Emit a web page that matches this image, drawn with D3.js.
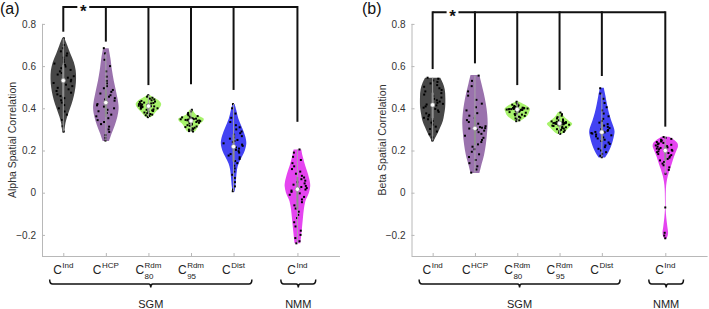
<!DOCTYPE html>
<html lang="en">
<head>
<meta charset="UTF-8">
<title>Alpha / Beta spatial correlation violins</title>
<script src="https://cdn.jsdelivr.net/npm/d3@7"></script>
<style>
  body { margin: 0; background: #fff; }
  svg { display: block; font-family: "Liberation Sans", Arial, Helvetica, sans-serif; }
  .ytick { fill: #333; font-size: 10px; }
  .ylab { fill: #333; font-size: 10.5px; }
</style>
</head>
<body>
<svg id="chart" width="709" height="309"></svg>
<script>
  // categories (SGM x5, NMM x1)
  const catX = [1, 2, 3, 4, 5, 6.5];
  const xTickLabels = [
    { base: "C", sup: "Ind" },
    { base: "C", sup: "HCP" },
    { base: "C", sup: "Rdm", sub: "80" },
    { base: "C", sup: "Rdm", sub: "95" },
    { base: "C", sup: "Dist" },
    { base: "C", sup: "Ind" }
  ];
  const yTicks = [-0.2, 0, 0.2, 0.4, 0.6, 0.8];
  const braceGroups = [
    { label: "SGM", from: 0.68, to: 5.43 },
    { label: "NMM", from: 6.11, to: 6.93 }
  ];
  const violinColors = ["#474747", "#9a72ad", "#a8f36c", "#a8f36c", "#4343f2", "#e544f0"];

  // individual values (alpha)
  const alphaDots = [
    [0.732, 0.70, 0.685, 0.67, 0.66, 0.65, 0.64, 0.63, 0.62, 0.612, 0.605, 0.598, 0.59, 0.582, 0.575, 0.567, 0.56, 0.552, 0.545, 0.535,
     0.528, 0.52, 0.512, 0.505, 0.497, 0.49, 0.482, 0.474, 0.466, 0.458, 0.448, 0.438, 0.427, 0.415, 0.40, 0.385, 0.37, 0.345, 0.315, 0.29],
    [0.685, 0.66, 0.63, 0.60, 0.575, 0.55, 0.53, 0.518, 0.505, 0.495, 0.487, 0.478, 0.47, 0.462, 0.455, 0.448, 0.442, 0.436, 0.432, 0.429,
     0.425, 0.42, 0.414, 0.408, 0.40, 0.393, 0.386, 0.378, 0.37, 0.362, 0.353, 0.344, 0.335, 0.325, 0.313, 0.30, 0.288, 0.273, 0.26, 0.247],
    [0.462, 0.455, 0.45, 0.446, 0.442, 0.438, 0.435, 0.432, 0.43, 0.427, 0.425, 0.423, 0.421, 0.42, 0.418, 0.416, 0.414, 0.413, 0.412, 0.411,
     0.41, 0.409, 0.407, 0.405, 0.403, 0.40, 0.398, 0.395, 0.393, 0.39, 0.387, 0.384, 0.38, 0.377, 0.373, 0.37, 0.367, 0.364, 0.36, 0.358],
    [0.393, 0.385, 0.378, 0.372, 0.367, 0.363, 0.36, 0.357, 0.355, 0.353, 0.351, 0.349, 0.348, 0.347, 0.346, 0.345, 0.344, 0.343, 0.342, 0.341,
     0.34, 0.339, 0.337, 0.335, 0.333, 0.331, 0.329, 0.326, 0.323, 0.32, 0.317, 0.314, 0.311, 0.308, 0.305, 0.302, 0.299, 0.296, 0.292, 0.29],
    [0.42, 0.40, 0.375, 0.355, 0.335, 0.32, 0.31, 0.30, 0.29, 0.282, 0.275, 0.268, 0.262, 0.256, 0.25, 0.245, 0.24, 0.234, 0.228, 0.222,
     0.215, 0.209, 0.203, 0.197, 0.19, 0.183, 0.176, 0.168, 0.16, 0.15, 0.14, 0.128, 0.115, 0.10, 0.085, 0.07, 0.05, 0.03, 0.015, 0.007],
    [0.205, 0.19, 0.17, 0.155, 0.14, 0.125, 0.112, 0.1, 0.09, 0.08, 0.072, 0.064, 0.057, 0.05, 0.044, 0.038, 0.032, 0.027, 0.022, 0.018,
     0.015, 0.01, 0.004, -0.003, -0.01, -0.02, -0.032, -0.045, -0.06, -0.075, -0.09, -0.105, -0.12, -0.14, -0.16, -0.18, -0.2, -0.215, -0.23, -0.24]
  ];
  // individual values (beta)
  const betaDots = [
    [0.545, 0.54, 0.532, 0.525, 0.518, 0.51, 0.502, 0.495, 0.487, 0.48, 0.472, 0.465, 0.458, 0.451, 0.445, 0.438, 0.432, 0.426, 0.421, 0.418,
     0.414, 0.409, 0.403, 0.397, 0.39, 0.383, 0.376, 0.369, 0.362, 0.355, 0.348, 0.34, 0.332, 0.323, 0.313, 0.302, 0.29, 0.277, 0.262, 0.247],
    [0.555, 0.53, 0.505, 0.48, 0.46, 0.44, 0.422, 0.405, 0.39, 0.377, 0.365, 0.354, 0.344, 0.335, 0.327, 0.32, 0.315, 0.311, 0.308, 0.306,
     0.304, 0.30, 0.294, 0.287, 0.279, 0.27, 0.26, 0.25, 0.24, 0.229, 0.218, 0.206, 0.194, 0.182, 0.169, 0.155, 0.14, 0.125, 0.11, 0.095],
    [0.431, 0.426, 0.421, 0.417, 0.414, 0.411, 0.409, 0.407, 0.405, 0.403, 0.402, 0.401, 0.40, 0.399, 0.398, 0.397, 0.396, 0.396, 0.395, 0.395,
     0.394, 0.393, 0.392, 0.39, 0.388, 0.386, 0.384, 0.382, 0.379, 0.376, 0.373, 0.37, 0.367, 0.364, 0.36, 0.356, 0.352, 0.348, 0.343, 0.339],
    [0.38, 0.372, 0.365, 0.358, 0.352, 0.347, 0.343, 0.34, 0.338, 0.336, 0.334, 0.333, 0.332, 0.331, 0.331, 0.33, 0.33, 0.33, 0.329, 0.329,
     0.328, 0.327, 0.326, 0.325, 0.324, 0.322, 0.32, 0.318, 0.316, 0.313, 0.31, 0.307, 0.304, 0.301, 0.298, 0.295, 0.292, 0.288, 0.284, 0.279],
    [0.495, 0.47, 0.445, 0.425, 0.405, 0.39, 0.375, 0.362, 0.35, 0.34, 0.332, 0.325, 0.318, 0.312, 0.306, 0.301, 0.297, 0.293, 0.29, 0.288,
     0.286, 0.283, 0.28, 0.276, 0.272, 0.267, 0.262, 0.257, 0.251, 0.245, 0.238, 0.231, 0.224, 0.216, 0.208, 0.20, 0.192, 0.184, 0.175, 0.168],
    [0.264, 0.26, 0.255, 0.251, 0.247, 0.243, 0.24, 0.236, 0.233, 0.23, 0.227, 0.224, 0.221, 0.218, 0.215, 0.212, 0.209, 0.206, 0.203, 0.201,
     0.199, 0.196, 0.192, 0.188, 0.183, 0.178, 0.172, 0.166, 0.16, 0.153, 0.146, 0.138, 0.13, 0.12, 0.108, 0.09, -0.07, -0.19, -0.203, -0.216]
  ];

  // violin outlines: [value, relative half-width]
  const alphaShapes = [
    [[0.733, 0.08], [0.70, 0.3], [0.66, 0.55], [0.62, 0.82], [0.58, 0.97], [0.54, 1.0], [0.50, 0.95], [0.46, 0.83], [0.42, 0.65], [0.39, 0.47], [0.36, 0.3], [0.33, 0.17], [0.30, 0.1], [0.285, 0.06]],
    [[0.685, 0.22], [0.64, 0.35], [0.58, 0.48], [0.53, 0.62], [0.48, 0.8], [0.43, 0.96], [0.40, 1.0], [0.36, 0.9], [0.32, 0.7], [0.28, 0.45], [0.245, 0.25]],
    [[0.463, 0.08], [0.45, 0.45], [0.435, 0.85], [0.42, 1.0], [0.40, 0.85], [0.385, 0.6], [0.37, 0.4], [0.357, 0.15]],
    [[0.393, 0.12], [0.38, 0.25], [0.37, 0.4], [0.36, 0.75], [0.35, 1.0], [0.34, 0.95], [0.33, 0.75], [0.315, 0.55], [0.30, 0.42], [0.29, 0.3]],
    [[0.42, 0.08], [0.39, 0.22], [0.35, 0.38], [0.31, 0.65], [0.27, 0.9], [0.235, 1.0], [0.20, 0.88], [0.17, 0.65], [0.14, 0.4], [0.11, 0.27], [0.07, 0.2], [0.03, 0.14], [0.005, 0.08]],
    [[0.205, 0.3], [0.17, 0.42], [0.13, 0.6], [0.09, 0.82], [0.05, 0.98], [0.03, 1.0], [0.0, 0.9], [-0.04, 0.62], [-0.08, 0.5], [-0.12, 0.43], [-0.17, 0.35], [-0.21, 0.28], [-0.24, 0.22]]
  ];
  const betaShapes = [
    [[0.545, 0.6], [0.52, 0.8], [0.49, 0.95], [0.45, 1.0], [0.40, 0.98], [0.37, 0.9], [0.34, 0.8], [0.31, 0.6], [0.28, 0.38], [0.26, 0.2], [0.245, 0.08]],
    [[0.558, 0.35], [0.52, 0.5], [0.47, 0.7], [0.42, 0.86], [0.37, 0.97], [0.33, 1.0], [0.28, 0.95], [0.23, 0.86], [0.18, 0.72], [0.13, 0.5], [0.093, 0.35]],
    [[0.432, 0.1], [0.42, 0.5], [0.41, 0.8], [0.398, 1.0], [0.385, 0.95], [0.37, 0.85], [0.355, 0.6], [0.345, 0.35], [0.338, 0.1]],
    [[0.382, 0.12], [0.37, 0.25], [0.355, 0.45], [0.34, 0.75], [0.327, 1.0], [0.315, 0.85], [0.30, 0.6], [0.288, 0.4], [0.278, 0.15]],
    [[0.497, 0.15], [0.46, 0.28], [0.42, 0.4], [0.38, 0.55], [0.34, 0.75], [0.31, 0.93], [0.29, 1.0], [0.26, 0.92], [0.23, 0.78], [0.20, 0.58], [0.18, 0.4], [0.167, 0.25]],
    [[0.265, 0.3], [0.25, 0.7], [0.235, 0.95], [0.22, 1.0], [0.20, 0.88], [0.17, 0.68], [0.14, 0.52], [0.11, 0.35], [0.08, 0.2], [0.05, 0.1], [0.02, 0.05], [-0.03, 0.03],
     [-0.08, 0.03], [-0.12, 0.08], [-0.16, 0.16], [-0.19, 0.22], [-0.205, 0.18], [-0.218, 0.08]]
  ];

  // significance bracket: top level and where each drop ends
  const alphaBracketTop = 0.88;
  const alphaDropEnds = [0.763, 0.716, 0.51, 0.514, 0.487, 0.336];
  const betaBracketTop = 0.855;
  const betaDropEnds = [0.586, 0.613, 0.51, 0.487, 0.553, 0.313];
  const starAt = 1.47;

  const svg = d3.select("#chart");
  const halfW = 0.3;        // violin half width, in category units
  const axisBottom = 256, axisTop = 23.9;

  function widthAt(shape, v) {
    for (let i = 0; i < shape.length - 1; i++) {
      const a = shape[i], b = shape[i + 1];
      if (v <= a[0] && v >= b[0]) {
        const t = (a[0] - v) / (a[0] - b[0]);
        return a[1] + t * (b[1] - a[1]);
      }
    }
    return 0.05;
  }

  // fixed scatter for the dot jitter (layout only, same every run)
  function jitter(j, k) {
    const s = Math.sin((j + 1) * 12.9898 + (k + 1) * 78.233) * 43758.5453;
    return s - Math.floor(s);
  }

  function drawPanel(p, pk) {
    const x = d3.scaleLinear().domain([0.5, 7.5]).range(p.xRange);
    const y = d3.scaleLinear().domain([-0.3, 0.8]).range([axisBottom, axisTop]);
    const g = svg.append("g");

    // axes
    const yAxis = d3.axisLeft(y).tickValues(yTicks).tickSize(-3).tickPadding(6)
      .tickFormat(d => d === 0 ? "0" : d3.format(".1f")(d));
    const ya = g.append("g").attr("transform", `translate(${p.xRange[0]},0)`).call(yAxis);
    const xAxis = d3.axisBottom(x).tickValues(catX).tickSize(-3).tickFormat("");
    const xa = g.append("g").attr("transform", `translate(0,${axisBottom})`).call(xAxis);
    [ya, xa].forEach(a => {
      a.select(".domain").attr("stroke", "#b8b8b8").attr("d", a === ya
        ? `M0.5,${axisBottom}V${axisTop}` : `M${p.xRange[0]},0.5H${p.xRange[1]}`);
      a.selectAll(".tick line").attr("stroke", "#b8b8b8");
    });
    ya.selectAll(".tick text").attr("class", "ytick").attr("font-family", null).attr("font-size", null);

    // y label
    g.append("text").attr("class", "ylab")
      .attr("transform", `translate(${p.ylabX},${(axisTop + axisBottom) / 2}) rotate(-90)`)
      .attr("text-anchor", "middle").attr("dy", "0.35em").text(p.ylabel);

    // panel label
    g.append("text").attr("x", p.tagX).attr("y", 14).attr("font-size", 16).attr("fill", "#111").text(p.tag);

    // violins
    catX.forEach((c, i) => {
      const shape = p.shapes[i];
      const area = d3.area()
        .y(d => y(d[0]))
        .x0(d => x(c - d[1] * halfW))
        .x1(d => x(c + d[1] * halfW))
        .curve(d3.curveCatmullRom.alpha(0.5));
      g.append("path").attr("d", area(shape)).attr("fill", violinColors[i]);

      // dots jittered inside the outline
      const vals = p.dots[i];
      g.append("g").selectAll("rect").data(vals).join("rect")
        .attr("x", (v, j) => {
          const t = jitter(j, i + pk * 6);
          return x(c + (2 * t - 1) * 0.85 * widthAt(shape, v) * halfW) - 1;
        })
        .attr("y", v => y(v) - 1)
        .attr("width", 2).attr("height", 2).attr("fill", "#000");

      // box, whiskers, median
      const s = vals.slice().sort(d3.ascending);
      const q1 = d3.quantile(s, 0.25), q3 = d3.quantile(s, 0.75), med = d3.quantile(s, 0.5);
      const iqr = q3 - q1;
      const lo = d3.min(s.filter(v => v >= q1 - 1.5 * iqr));
      const hi = d3.max(s.filter(v => v <= q3 + 1.5 * iqr));
      g.append("line").attr("x1", x(c)).attr("x2", x(c)).attr("y1", y(hi)).attr("y2", y(lo))
        .attr("stroke", "#a9a9a9").attr("stroke-width", 0.9);
      g.append("rect").attr("x", x(c) - 1).attr("width", 2)
        .attr("y", y(q3)).attr("height", y(q1) - y(q3)).attr("fill", "#909090");
      g.append("circle").attr("cx", x(c)).attr("cy", y(med)).attr("r", 2.2)
        .attr("fill", "#fff").attr("stroke", "#888").attr("stroke-width", 0.6);
    });

    // significance bracket
    const top = y(p.bracketTop);
    const br = g.append("g").attr("stroke", "#111").attr("stroke-width", 2).attr("fill", "none");
    br.append("path").attr("d",
      `M${x(catX[0])},${top}H${x(starAt - 0.14)}M${x(starAt + 0.14)},${top}H${x(catX[catX.length - 1])}`);
    catX.forEach((c, i) => {
      br.append("line").attr("x1", x(c)).attr("x2", x(c))
        .attr("y1", top - 1).attr("y2", y(p.dropEnds[i]));
    });
    g.append("text").attr("x", x(starAt)).attr("y", top + 9.5).attr("text-anchor", "middle")
      .attr("font-size", 17).attr("font-weight", "bold").attr("fill", "#111").text("*");

    // x tick labels: C with super / subscripts
    xTickLabels.forEach((lab, i) => {
      const lg = g.append("g");
      const base = lg.append("text").attr("y", 273.5).attr("font-size", 12).attr("fill", "#222").text(lab.base);
      const bw = base.node().getComputedTextLength() + 0.5;
      const sup = lg.append("text").attr("x", bw).attr("y", 268).attr("font-size", 8).attr("fill", "#222").text(lab.sup);
      let w = sup.node().getComputedTextLength();
      if (lab.sub) {
        const sub = lg.append("text").attr("x", bw).attr("y", 279).attr("font-size", 8).attr("fill", "#222").text(lab.sub);
        w = Math.max(w, sub.node().getComputedTextLength());
      }
      lg.attr("transform", `translate(${x(catX[i]) - (bw + w) / 2},0)`);
    });

    // group braces
    const by = axisBottom + 28;
    braceGroups.forEach(b => {
      const x0 = x(b.from), x1 = x(b.to), xm = (x0 + x1) / 2;
      g.append("path")
        .attr("d", `M${x0},${by - 4.5}q0,4.5 3,4.5H${xm - 2}q2,0 2,3.5q0,-3.5 2,-3.5H${x1 - 3}q3,0 3,-4.5`)
        .attr("fill", "none").attr("stroke", "#111").attr("stroke-width", 1.5);
      g.append("text").attr("x", xm).attr("y", 308).attr("text-anchor", "middle")
        .attr("font-size", 11).attr("fill", "#222").text(b.label);
    });
  }

  drawPanel({ tag: "(a)", tagX: 0, ylabel: "Alpha Spatial Correlation", ylabX: 12.5, xRange: [42, 340],
    dots: alphaDots, shapes: alphaShapes, bracketTop: alphaBracketTop, dropEnds: alphaDropEnds }, 0);
  drawPanel({ tag: "(b)", tagX: 362, ylabel: "Beta Spatial Correlation", ylabX: 382.5, xRange: [411.5, 707.6],
    dots: betaDots, shapes: betaShapes, bracketTop: betaBracketTop, dropEnds: betaDropEnds }, 1);
</script>
</body>
</html>
